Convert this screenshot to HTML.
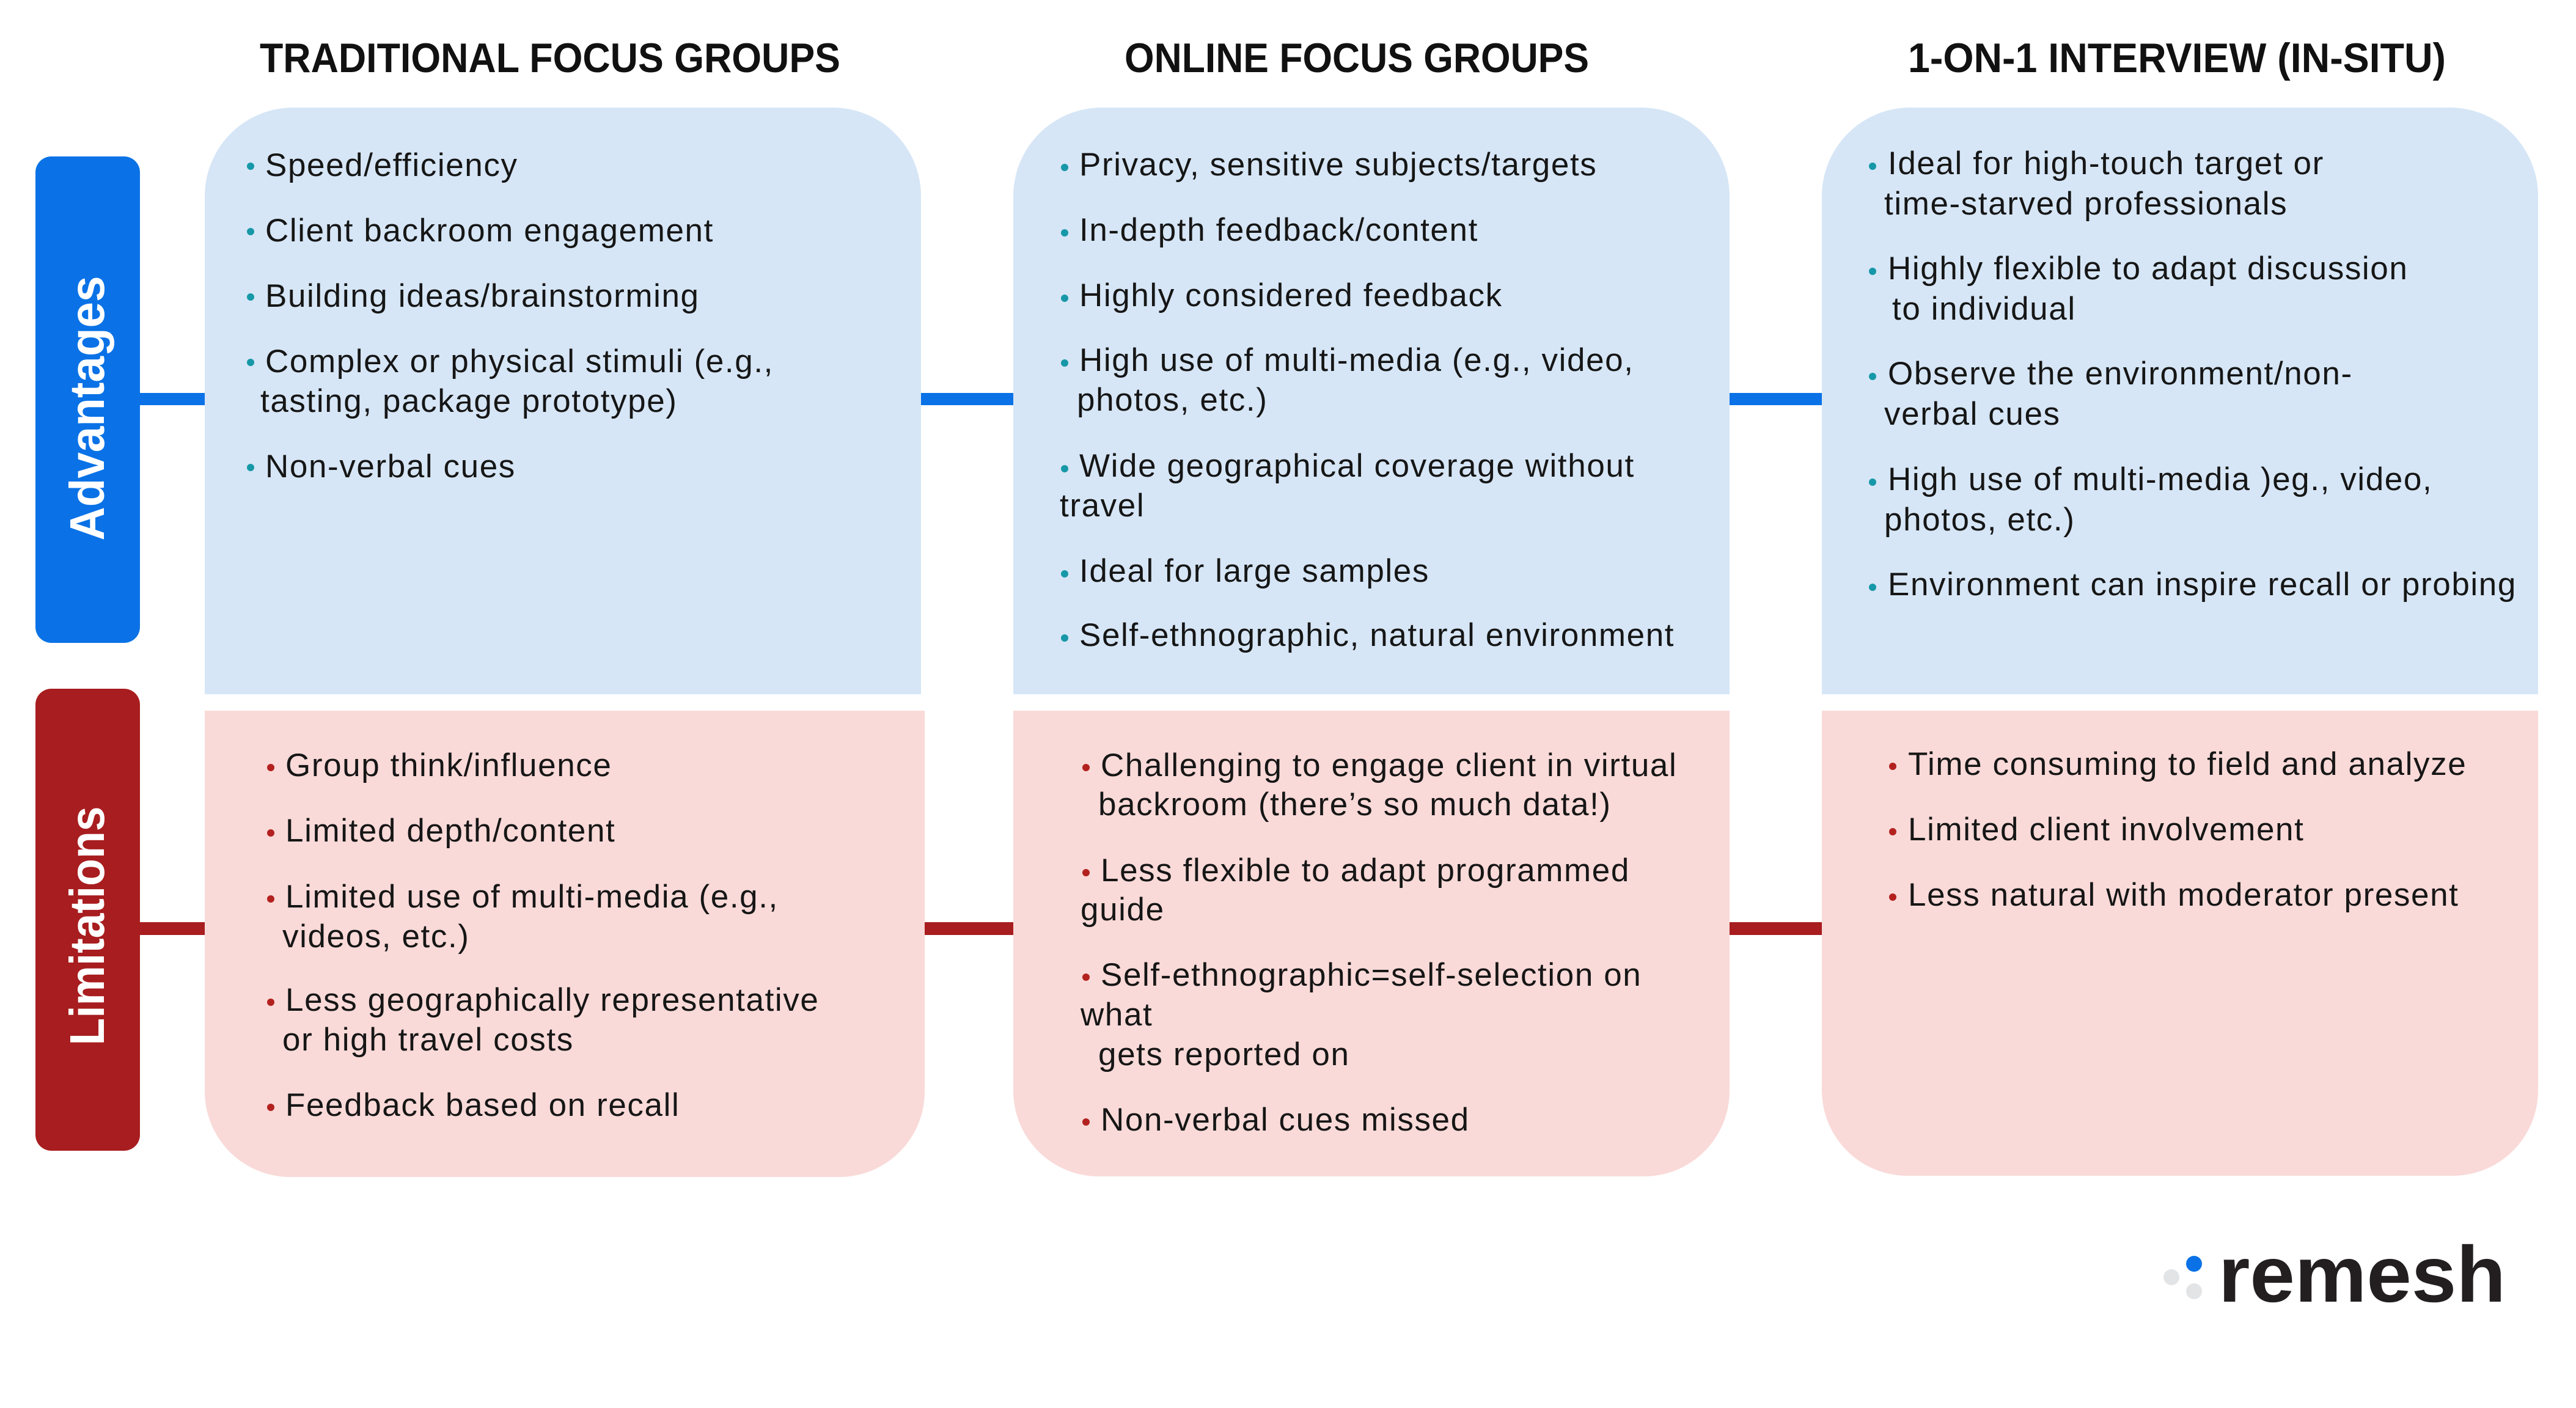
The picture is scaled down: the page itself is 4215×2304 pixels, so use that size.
<!DOCTYPE html>
<html><head><meta charset="utf-8"><style>
*{margin:0;padding:0;box-sizing:border-box}
body{width:4215px;height:2304px;background:#fff;position:relative;overflow:hidden;font-family:"Liberation Sans",sans-serif;color:#161616}
.a{position:absolute}
.bl{background:#D6E6F6;border-radius:145px 145px 0 0}
.pk{background:#F9DAD8;border-radius:0 0 140px 140px}
.t{position:absolute;font-size:53px;line-height:60px;letter-spacing:1.6px;white-space:nowrap;transform:translateY(-31px)}
.d{position:absolute;width:12px;height:12px;border-radius:50%;transform:translate(-6px,-6px)}
.db{background:#1798A8}.dr{background:#B3211F}
</style></head><body>
<svg class="a" style="left:0;top:0" width="4215" height="2304">
<text x="900" y="118" text-anchor="middle" font-family="Liberation Sans" font-weight="bold" font-size="68" textLength="950" lengthAdjust="spacingAndGlyphs" fill="#111">TRADITIONAL FOCUS GROUPS</text>
<text x="2220" y="118" text-anchor="middle" font-family="Liberation Sans" font-weight="bold" font-size="68" textLength="760" lengthAdjust="spacingAndGlyphs" fill="#111">ONLINE FOCUS GROUPS</text>
<text x="3562" y="118" text-anchor="middle" font-family="Liberation Sans" font-weight="bold" font-size="68" textLength="880" lengthAdjust="spacingAndGlyphs" fill="#111">1-ON-1 INTERVIEW (IN-SITU)</text>
<circle cx="3553" cy="2090" r="13" fill="#E2E4E6"/>
<circle cx="3590" cy="2068" r="13" fill="#0A72E6"/>
<circle cx="3590" cy="2113" r="13" fill="#E2E4E6"/>
<text x="3630" y="2130" font-family="Liberation Sans" font-weight="bold" font-size="130" textLength="470" lengthAdjust="spacingAndGlyphs" fill="#231F20">remesh</text>
</svg>
<div class="a" style="left:229px;top:643px;width:2752px;height:20px;background:#0A72E6"></div>
<div class="a" style="left:229px;top:1509px;width:2752px;height:21px;background:#A81D1F"></div>
<div class="a" style="left:58px;top:256px;width:171px;height:796px;background:#0A72E6;border-radius:26px"></div>
<div class="a" style="left:58px;top:1127px;width:171px;height:756px;background:#A81D1F;border-radius:26px"></div>
<svg class="a" style="left:0;top:0" width="300" height="2000">
<text transform="translate(170,668) rotate(-90)" text-anchor="middle" font-family="Liberation Sans" font-weight="bold" font-size="80" textLength="433" lengthAdjust="spacingAndGlyphs" fill="#fff">Advantages</text>
<text transform="translate(170,1515) rotate(-90)" text-anchor="middle" font-family="Liberation Sans" font-weight="bold" font-size="80" textLength="391" lengthAdjust="spacingAndGlyphs" fill="#fff">Limitations</text>
</svg>
<div class="a bl" style="left:335px;top:176px;width:1172px;height:960px"></div>
<div class="a pk" style="left:335px;top:1163px;width:1178px;height:763px"></div>
<div class="a bl" style="left:1658px;top:176px;width:1172px;height:960px"></div>
<div class="a pk" style="left:1658px;top:1163px;width:1172px;height:762px"></div>
<div class="a bl" style="left:2981px;top:176px;width:1172px;height:960px"></div>
<div class="a pk" style="left:2981px;top:1163px;width:1172px;height:761px"></div>

<div class="d db" style="left:410px;top:272px"></div><div class="t" style="left:434px;top:272px">Speed/efficiency</div>
<div class="d db" style="left:410px;top:379px"></div><div class="t" style="left:434px;top:379px">Client backroom engagement</div>
<div class="d db" style="left:410px;top:486px"></div><div class="t" style="left:434px;top:486px">Building ideas/brainstorming</div>
<div class="d db" style="left:410px;top:593px"></div><div class="t" style="left:434px;top:593px">Complex or physical stimuli (e.g.,</div>
<div class="t" style="left:426px;top:658px">tasting, package prototype)</div>
<div class="d db" style="left:410px;top:765px"></div><div class="t" style="left:434px;top:765px">Non-verbal cues</div>
<div class="d dr" style="left:443px;top:1256px"></div><div class="t" style="left:467px;top:1254px">Group think/influence</div>
<div class="d dr" style="left:443px;top:1363px"></div><div class="t" style="left:467px;top:1361px">Limited depth/content</div>
<div class="d dr" style="left:443px;top:1471px"></div><div class="t" style="left:467px;top:1469px">Limited use of multi-media (e.g.,</div>
<div class="t" style="left:462px;top:1534px">videos, etc.)</div>
<div class="d dr" style="left:443px;top:1640px"></div><div class="t" style="left:467px;top:1638px">Less geographically representative</div>
<div class="t" style="left:462px;top:1703px">or high travel costs</div>
<div class="d dr" style="left:443px;top:1812px"></div><div class="t" style="left:467px;top:1810px">Feedback based on recall</div>
<div class="d db" style="left:1742px;top:274px"></div><div class="t" style="left:1766px;top:271px">Privacy, sensitive subjects/targets</div>
<div class="d db" style="left:1742px;top:381px"></div><div class="t" style="left:1766px;top:378px">In-depth feedback/content</div>
<div class="d db" style="left:1742px;top:488px"></div><div class="t" style="left:1766px;top:485px">Highly considered feedback</div>
<div class="d db" style="left:1742px;top:594px"></div><div class="t" style="left:1766px;top:591px">High use of multi-media (e.g., video,</div>
<div class="t" style="left:1762px;top:656px">photos, etc.)</div>
<div class="d db" style="left:1742px;top:767px"></div><div class="t" style="left:1766px;top:764px">Wide geographical coverage without</div>
<div class="t" style="left:1734px;top:829px">travel</div>
<div class="d db" style="left:1742px;top:939px"></div><div class="t" style="left:1766px;top:936px">Ideal for large samples</div>
<div class="d db" style="left:1742px;top:1044px"></div><div class="t" style="left:1766px;top:1041px">Self-ethnographic, natural environment</div>
<div class="d dr" style="left:1777px;top:1256px"></div><div class="t" style="left:1801px;top:1254px">Challenging to engage client in virtual</div>
<div class="t" style="left:1797px;top:1318px">backroom (there’s so much data!)</div>
<div class="d dr" style="left:1777px;top:1428px"></div><div class="t" style="left:1801px;top:1426px">Less flexible to adapt programmed</div>
<div class="t" style="left:1768px;top:1490px">guide</div>
<div class="d dr" style="left:1777px;top:1599px"></div><div class="t" style="left:1801px;top:1597px">Self-ethnographic=self-selection on</div>
<div class="t" style="left:1768px;top:1662px">what</div>
<div class="t" style="left:1797px;top:1727px">gets reported on</div>
<div class="d dr" style="left:1777px;top:1836px"></div><div class="t" style="left:1801px;top:1834px">Non-verbal cues missed</div>
<div class="d db" style="left:3064px;top:272px"></div><div class="t" style="left:3089px;top:269px">Ideal for high-touch target or</div>
<div class="t" style="left:3083px;top:335px">time-starved professionals</div>
<div class="d db" style="left:3064px;top:444px"></div><div class="t" style="left:3089px;top:441px">Highly flexible to adapt discussion</div>
<div class="t" style="left:3096px;top:507px">to individual</div>
<div class="d db" style="left:3064px;top:616px"></div><div class="t" style="left:3089px;top:613px">Observe the environment/non-</div>
<div class="t" style="left:3083px;top:679px">verbal cues</div>
<div class="d db" style="left:3064px;top:789px"></div><div class="t" style="left:3089px;top:786px">High use of multi-media )eg., video,</div>
<div class="t" style="left:3083px;top:852px">photos, etc.)</div>
<div class="d db" style="left:3064px;top:961px"></div><div class="t" style="left:3089px;top:958px">Environment can inspire recall or probing</div>
<div class="d dr" style="left:3097px;top:1254px"></div><div class="t" style="left:3122px;top:1252px">Time consuming to field and analyze</div>
<div class="d dr" style="left:3097px;top:1361px"></div><div class="t" style="left:3122px;top:1359px">Limited client involvement</div>
<div class="d dr" style="left:3097px;top:1468px"></div><div class="t" style="left:3122px;top:1466px">Less natural with moderator present</div>
</body></html>
